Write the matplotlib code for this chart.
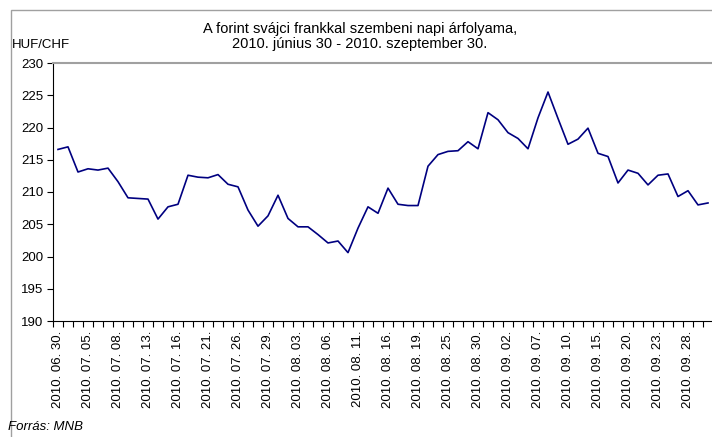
import matplotlib
matplotlib.use('Agg')
import matplotlib.pyplot as plt
from matplotlib.patches import Rectangle

plt.rcParams['font.family'] = ['Liberation Sans', 'DejaVu Sans']

# daily HUF/CHF rates, business days 2010.06.30 - 2010.09.30 (Aug 20 holiday)
rates = [216.6, 217.0, 213.1, 213.6, 213.4, 213.7, 211.6, 209.1, 209.0, 208.9,
         205.8, 207.7, 208.1, 212.6, 212.3, 212.2, 212.7, 211.2, 210.8, 207.2,
         204.7, 206.3, 209.5, 205.9, 204.6, 204.6, 203.4, 202.1, 202.4, 200.6,
         204.4, 207.7, 206.7, 210.6, 208.1, 207.9, 207.9, 214.0, 215.8, 216.3,
         216.4, 217.8, 216.7, 222.3, 221.2, 219.2, 218.3, 216.7, 221.5, 225.5,
         221.4, 217.4, 218.2, 219.9, 216.0, 215.5, 211.4, 213.4, 212.9, 211.1,
         212.6, 212.8, 209.3, 210.2, 208.0, 208.3]

# every third business day is labelled
tick_labels = ['2010. 06. 30.', '2010. 07. 05.', '2010. 07. 08.', '2010. 07. 13.',
               '2010. 07. 16.', '2010. 07. 21.', '2010. 07. 26.', '2010. 07. 29.',
               '2010. 08. 03.', '2010. 08. 06.', '2010. 08. 11.', '2010. 08. 16.',
               '2010. 08. 19.', '2010. 08. 25.', '2010. 08. 30.', '2010. 09. 02.',
               '2010. 09. 07.', '2010. 09. 10.', '2010. 09. 15.', '2010. 09. 20.',
               '2010. 09. 23.', '2010. 09. 28.']

W, H = 712, 437
fig = plt.figure(figsize=(W / 100, H / 100), dpi=100)

# outer chart border (runs off the right/bottom edge)
fig.patches.append(Rectangle((11 / W, -0.1), 1.2, 1 - 10 / H + 0.1,
                             transform=fig.transFigure, fill=False,
                             edgecolor='#a0a0a0', lw=1.0))

n = len(rates)
ax = fig.add_axes([53 / W, (H - 321) / H, 660 / W, 258 / H])
x = [i + 0.5 for i in range(n)]
ax.plot(x, rates, color='#000080', lw=1.2)

ax.set_xlim(0, n)
ax.set_ylim(190, 230)
ax.set_yticks(range(190, 231, 5))
ax.tick_params(axis='y', direction='out', length=4, width=0.8, labelsize=9.5, pad=3)

ax.set_xticks(range(n + 1), minor=False)
ax.set_xticklabels([])
ax.tick_params(axis='x', which='major', direction='out', length=4, width=0.8)
ax.set_xticks([x[i] for i in range(0, n, 3)], minor=True)
ax.set_xticklabels(tick_labels, minor=True, rotation=90, fontsize=9.5)
ax.tick_params(axis='x', which='minor', length=0, pad=7)

ax.spines['left'].set_color('black')
ax.spines['bottom'].set_color('black')
ax.spines['top'].set_color('#a0a0a0')
ax.spines['top'].set_linewidth(1.5)
ax.spines['right'].set_visible(False)

fig.text(360 / W, 1 - 36.5 / H,
         'A forint svájci frankkal szembeni napi árfolyama,\n2010. június 30 - 2010. szeptember 30.',
         ha='center', va='center', fontsize=10.5, linespacing=1.1)
fig.text(12 / W, 1 - 45 / H, 'HUF/CHF', ha='left', va='center', fontsize=9.5)
fig.text(8 / W, 1 - 427 / H, 'Forrás: MNB', ha='left', va='center',
         fontsize=9.5, style='italic')

fig.savefig('out.png', dpi=100)
